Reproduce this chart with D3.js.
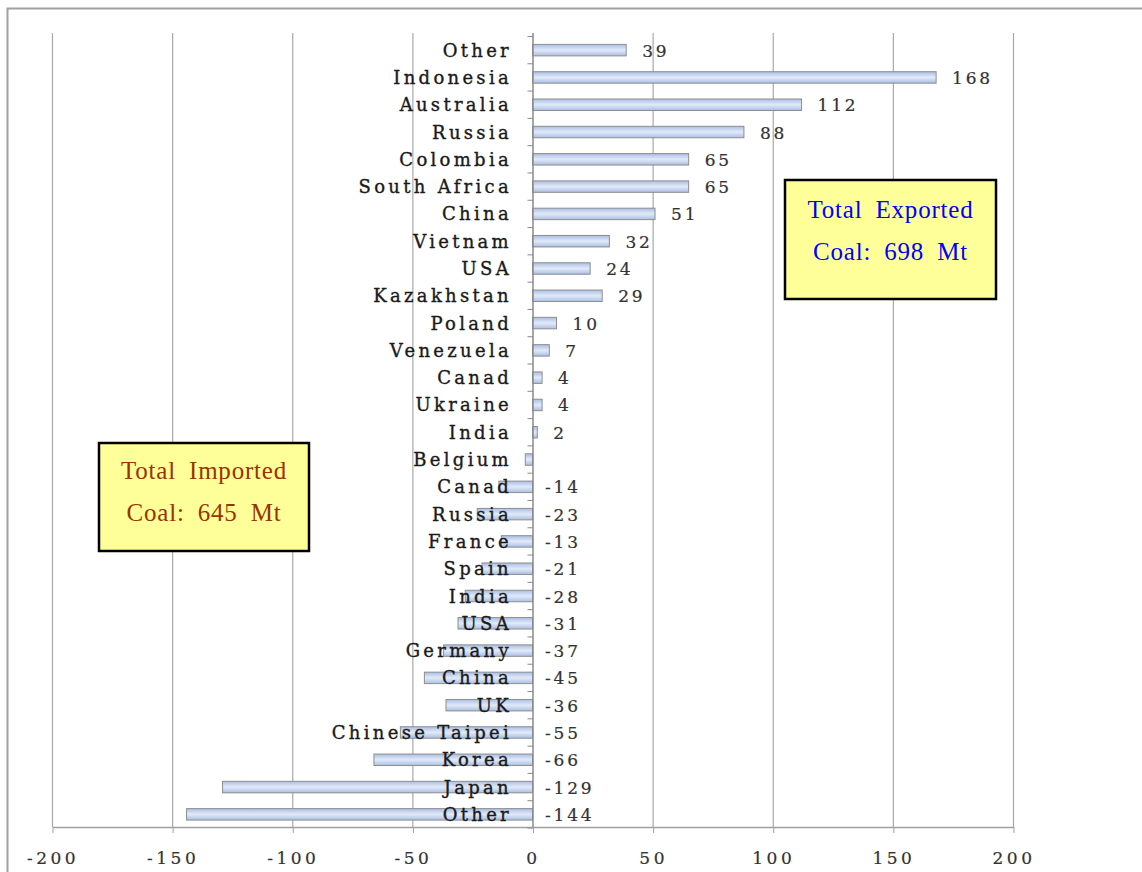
<!DOCTYPE html>
<html><head><meta charset="utf-8">
<script src="https://cdn.jsdelivr.net/npm/d3@7"></script>
<style>
body{margin:0;background:#fff;}
svg{display:block;}
</style></head>
<body>
<svg id="chart" width="1142" height="872"></svg>
<script>
const categories = ["Other","Indonesia","Australia","Russia","Colombia","South Africa","China","Vietnam","USA","Kazakhstan","Poland","Venezuela","Canad","Ukraine","India","Belgium","Canad","Russia","France","Spain","India","USA","Germany","China","UK","Chinese Taipei","Korea","Japan","Other"];
const values = [39,168,112,88,65,65,51,32,24,29,10,7,4,4,2,-3,-14,-23,-13,-21,-28,-31,-37,-45,-36,-55,-66,-129,-144];
const valueLabels = ["39","168","112","88","65","65","51","32","24","29","10","7","4","4","2","","-14","-23","-13","-21","-28","-31","-37","-45","-36","-55","-66","-129","-144"];
const xTicks = [-200,-150,-100,-50,0,50,100,150,200];
const exportText = ["Total Exported","Coal: 698 Mt"];
const importText = ["Total Imported","Coal: 645 Mt"];

const svg = d3.select("#chart");
const x = d3.scaleLinear().domain([-200,200]).range([52,1013]);
const keys = categories.map((c,i)=>i);
const y = d3.scaleBand().domain(keys).range([36.5,828]).paddingInner(0.58).paddingOuter(0.29);
const yb = d3.scaleBand().domain(keys).range([36.5,828]);
const axisY = 827;

// outer border
svg.append("path").attr("d","M7.5,872 V8.5 H1142").attr("fill","none").attr("stroke","#a0a0a0").attr("stroke-width",2);

const defs = svg.append("defs");
const g = defs.append("linearGradient").attr("id","bar").attr("x1",0).attr("y1",0).attr("x2",0).attr("y2",1);
g.append("stop").attr("offset","0%").attr("stop-color","#a9bfe4");
g.append("stop").attr("offset","50%").attr("stop-color","#e2eaf8");
g.append("stop").attr("offset","100%").attr("stop-color","#a9bfe4");

// gridlines
svg.append("g").selectAll("line").data(xTicks.filter(t=>t!==0)).join("line")
  .attr("x1",d=>x(d)+0.5).attr("x2",d=>x(d)+0.5).attr("y1",33).attr("y2",axisY)
  .attr("stroke","#a8a8a8").attr("stroke-width",1.2);

// bars
svg.append("g").selectAll("rect").data(values).join("rect")
  .attr("x",d=>Math.min(x(0),x(d)))
  .attr("y",(d,i)=>y(i))
  .attr("width",d=>Math.abs(x(d)-x(0)))
  .attr("height",y.bandwidth())
  .attr("fill","url(#bar)")
  .attr("stroke","#8e8e8e").attr("stroke-width",1);

// x axis
const xAxis = d3.axisBottom(x).tickValues(xTicks).tickSize(6).tickSizeOuter(0)
  .tickFormat(d=>d<0?"-"+Math.abs(d):String(d));
const xg = svg.append("g").attr("transform",`translate(0.5,${axisY})`).call(xAxis);
xg.select(".domain").attr("stroke","#a0a0a0").attr("stroke-width",1.5);
xg.selectAll(".tick line").attr("stroke","#a0a0a0");
xg.selectAll(".tick text").attr("dy",null).attr("y",37)
  .attr("font-family","DejaVu Serif").attr("font-size",17).attr("letter-spacing",3.5)
  .attr("fill","#333").attr("stroke","#333").attr("stroke-width",0.2);

// y axis line at 0 with ticks
const yAxisG = svg.append("g");
yAxisG.append("line").attr("x1",x(0)+0.5).attr("x2",x(0)+0.5).attr("y1",33).attr("y2",axisY)
  .attr("stroke","#8a8a8a").attr("stroke-width",1.5);
yAxisG.selectAll("line.t").data(keys.concat([29])).join("line").attr("class","t")
  .attr("x1",x(0)-5).attr("x2",x(0)+0.5)
  .attr("y1",d=>d<29?yb(d):828).attr("y2",d=>d<29?yb(d):828)
  .attr("stroke","#8a8a8a").attr("stroke-width",1);

// category labels
svg.append("g").selectAll("text").data(categories).join("text")
  .attr("x",512).attr("y",(d,i)=>yb(i)+yb.bandwidth()/2+6.5)
  .attr("text-anchor","end")
  .attr("font-family","DejaVu Serif").attr("font-size",18).attr("letter-spacing",3.3)
  .attr("fill","#1a1a1a").attr("stroke","#1a1a1a").attr("stroke-width",0.35).text(d=>d);

// value labels
svg.append("g").selectAll("text").data(values).join("text")
  .attr("x",(d,i)=>d>0?x(d)+16:545)
  .attr("y",(d,i)=>yb(i)+yb.bandwidth()/2+6.5)
  .attr("font-family","DejaVu Serif").attr("font-size",17).attr("letter-spacing",2.8)
  .attr("fill","#333").attr("stroke","#333").attr("stroke-width",0.2).text((d,i)=>valueLabels[i]);

// boxes
function box(x0,y0,w,h,lines,color,off){
  const bg = svg.append("g");
  bg.append("rect").attr("x",x0).attr("y",y0).attr("width",w).attr("height",h)
    .attr("fill","#ffff99").attr("stroke","#000").attr("stroke-width",2.5);
  bg.selectAll("text").data(lines).join("text")
    .attr("x",x0+w/2).attr("y",(d,i)=>y0+off+i*42)
    .attr("text-anchor","middle")
    .attr("font-family","Liberation Serif").attr("font-size",25).attr("word-spacing",6).attr("letter-spacing",0.8)
    .attr("fill",color).text(d=>d);
}
box(785,180,211,119,exportText,"#0000ff",38);
box(99,443,210,108,importText,"#993300",36);
</script>
</body></html>
